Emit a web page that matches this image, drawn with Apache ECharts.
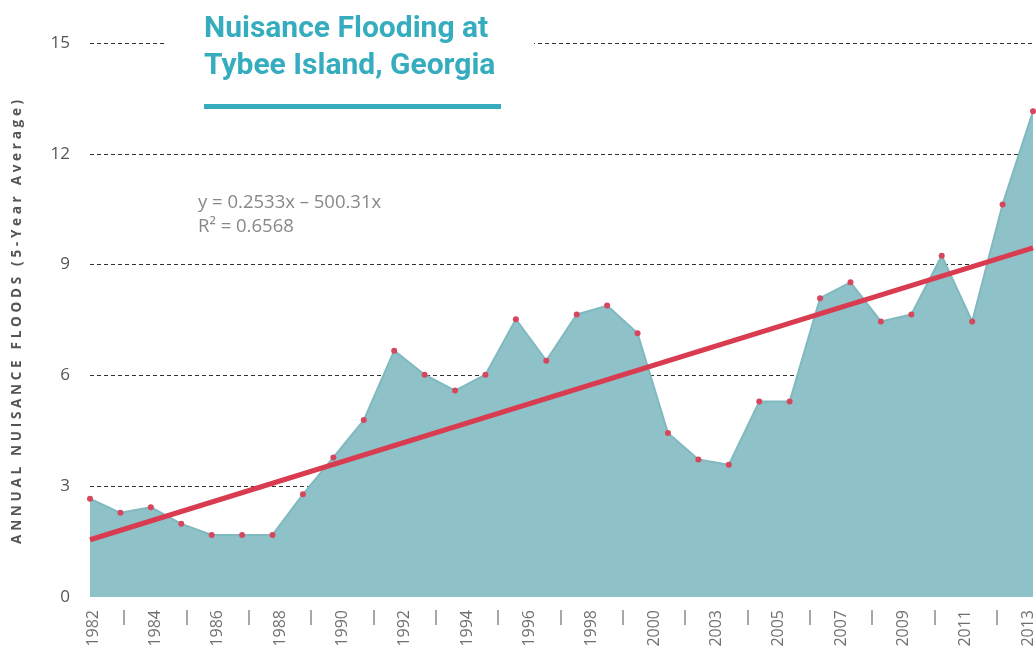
<!DOCTYPE html>
<html>
<head>
<meta charset="utf-8">
<script src="https://cdn.jsdelivr.net/npm/echarts@6/dist/echarts.min.js"></script>
<style>
html,body{margin:0;padding:0;background:#fff;}
#chart{width:1036px;height:650px;}
</style>
</head>
<body>
<div id="chart"></div>
<script>
// ---- data ----
const years = ['1982','1983','1984','1985','1986','1987','1988','1989','1990','1991',
  '1992','1993','1994','1995','1996','1997','1998','1999','2000','2001',
  '2002','2003','2004','2005','2006','2007','2008','2009','2010','2011','2012','2013'];
const floods = [2.66,2.28,2.43,1.98,1.68,1.68,1.68,2.78,3.78,4.79,
  6.67,6.02,5.59,6.02,7.52,6.40,7.65,7.89,7.14,4.44,
  3.72,3.58,5.29,5.29,8.09,8.52,7.46,7.65,9.24,7.46,10.63,13.15];
const trendYears = ['1982','2013'];
const trendValues = [1.55, 9.45];
const tickLabels = ['1982','','1984','','1986','','1988','','1990','','1992','','1994','','1996','','1998','','2000','',
  '2003','','2005','','2007','','2009','','2011','','2013'];
const yTicks = [0,3,6,9,12,15];
const titleText = 'Nuisance Flooding at\nTybee Island, Georgia';
const yTitle = 'ANNUAL NUISANCE FLOODS (5-Year Average)';
const equationText = 'y = 0.2533x \u2013 500.31x\nR\u00B2 = 0.6568';

// letter spacing for the y-axis title only (canvas native letterSpacing)
(function(){
  const orig = CanvasRenderingContext2D.prototype.fillText;
  const mctx = document.createElement('canvas').getContext('2d');
  mctx.font = 'bold 13.5px "Open Sans"';
  const natural = mctx.measureText(yTitle).width;
  const spacing = Math.max(0, (444 - natural) / (yTitle.length - 1));
  CanvasRenderingContext2D.prototype.fillText = function(t, x, y, w){
    if ('letterSpacing' in this) {
      this.letterSpacing = (t === yTitle) ? (spacing.toFixed(2) + 'px') : '0px';
    }
    if (w === undefined) { orig.call(this, t, x, y); } else { orig.call(this, t, x, y, w); }
    if ('letterSpacing' in this) { this.letterSpacing = '0px'; }
  };
})();

const chart = echarts.init(document.getElementById('chart'), null, {renderer:'canvas'});
const gridTop = 43, gridBottom = 53;
chart.setOption({
  animation:false,
  backgroundColor:'#fff',
  grid:[
    {left:90, right:3, top:gridTop, bottom:gridBottom},
    {left:93, right:4, top:gridTop, bottom:40}
  ],
  xAxis:[
    {type:'category', gridIndex:0, data:years, boundaryGap:false,
     axisLine:{show:false}, axisTick:{show:false}, axisLabel:{show:false}, splitLine:{show:false}},
    {type:'category', gridIndex:1, data:tickLabels, boundaryGap:false,
     axisLine:{show:false},
     axisTick:{show:true, length:15, interval:function(i){return i % 2 === 1;},
       lineStyle:{color:'#8a8a8a', width:1.5}},
     axisLabel:{interval:0, rotate:90, margin:0, color:'#707070',
       fontFamily:'Open Sans', fontSize:16},
     splitLine:{show:false}}
  ],
  yAxis:[
    {type:'value', gridIndex:0, min:yTicks[0], max:yTicks[yTicks.length-1], interval:3,
     axisLine:{show:false}, axisTick:{show:false},
     axisLabel:{color:'#555', fontFamily:'Open Sans', fontSize:17, margin:20},
     splitLine:{show:true, showMinLine:false, lineStyle:{color:'#333', type:[4,3], width:1}},
     name:yTitle, nameLocation:'middle', nameRotate:90, nameGap:66,
     nameTextStyle:{color:'#555', fontFamily:'Open Sans', fontWeight:'bold', fontSize:13.5}},
    {type:'value', gridIndex:1, min:0, max:15, interval:3, show:false}
  ],
  series:[
    {type:'line', xAxisIndex:0, yAxisIndex:0, data:floods,
     symbol:'circle', symbolSize:6, showSymbol:true,
     itemStyle:{color:'#d6475d'},
     lineStyle:{color:'#80b9c0', width:2},
     areaStyle:{color:'#8fc1c8', opacity:1},
     z:2},
    {type:'line', xAxisIndex:0, yAxisIndex:0,
     data:trendYears.map((y,i)=>[y, trendValues[i]]),
     symbol:'none', lineStyle:{color:'#d93b50', width:5}, z:3}
  ],
  graphic:[
    {type:'rect', left:166, top:34, shape:{width:368, height:18}, style:{fill:'#fff'}, z:10},
    {type:'text', left:204, top:11, z:11,
     style:{text:titleText, fill:'#36adbe', font:'bold 30px Roboto', lineHeight:37}},
    {type:'rect', left:204, top:104, shape:{width:297, height:5}, style:{fill:'#36adbe'}, z:11},
    {type:'text', left:198, top:191, z:11,
     style:{text:equationText, fill:'#888', font:'18.5px "Open Sans"', lineHeight:24}}
  ]
});
</script>
</body>
</html>
